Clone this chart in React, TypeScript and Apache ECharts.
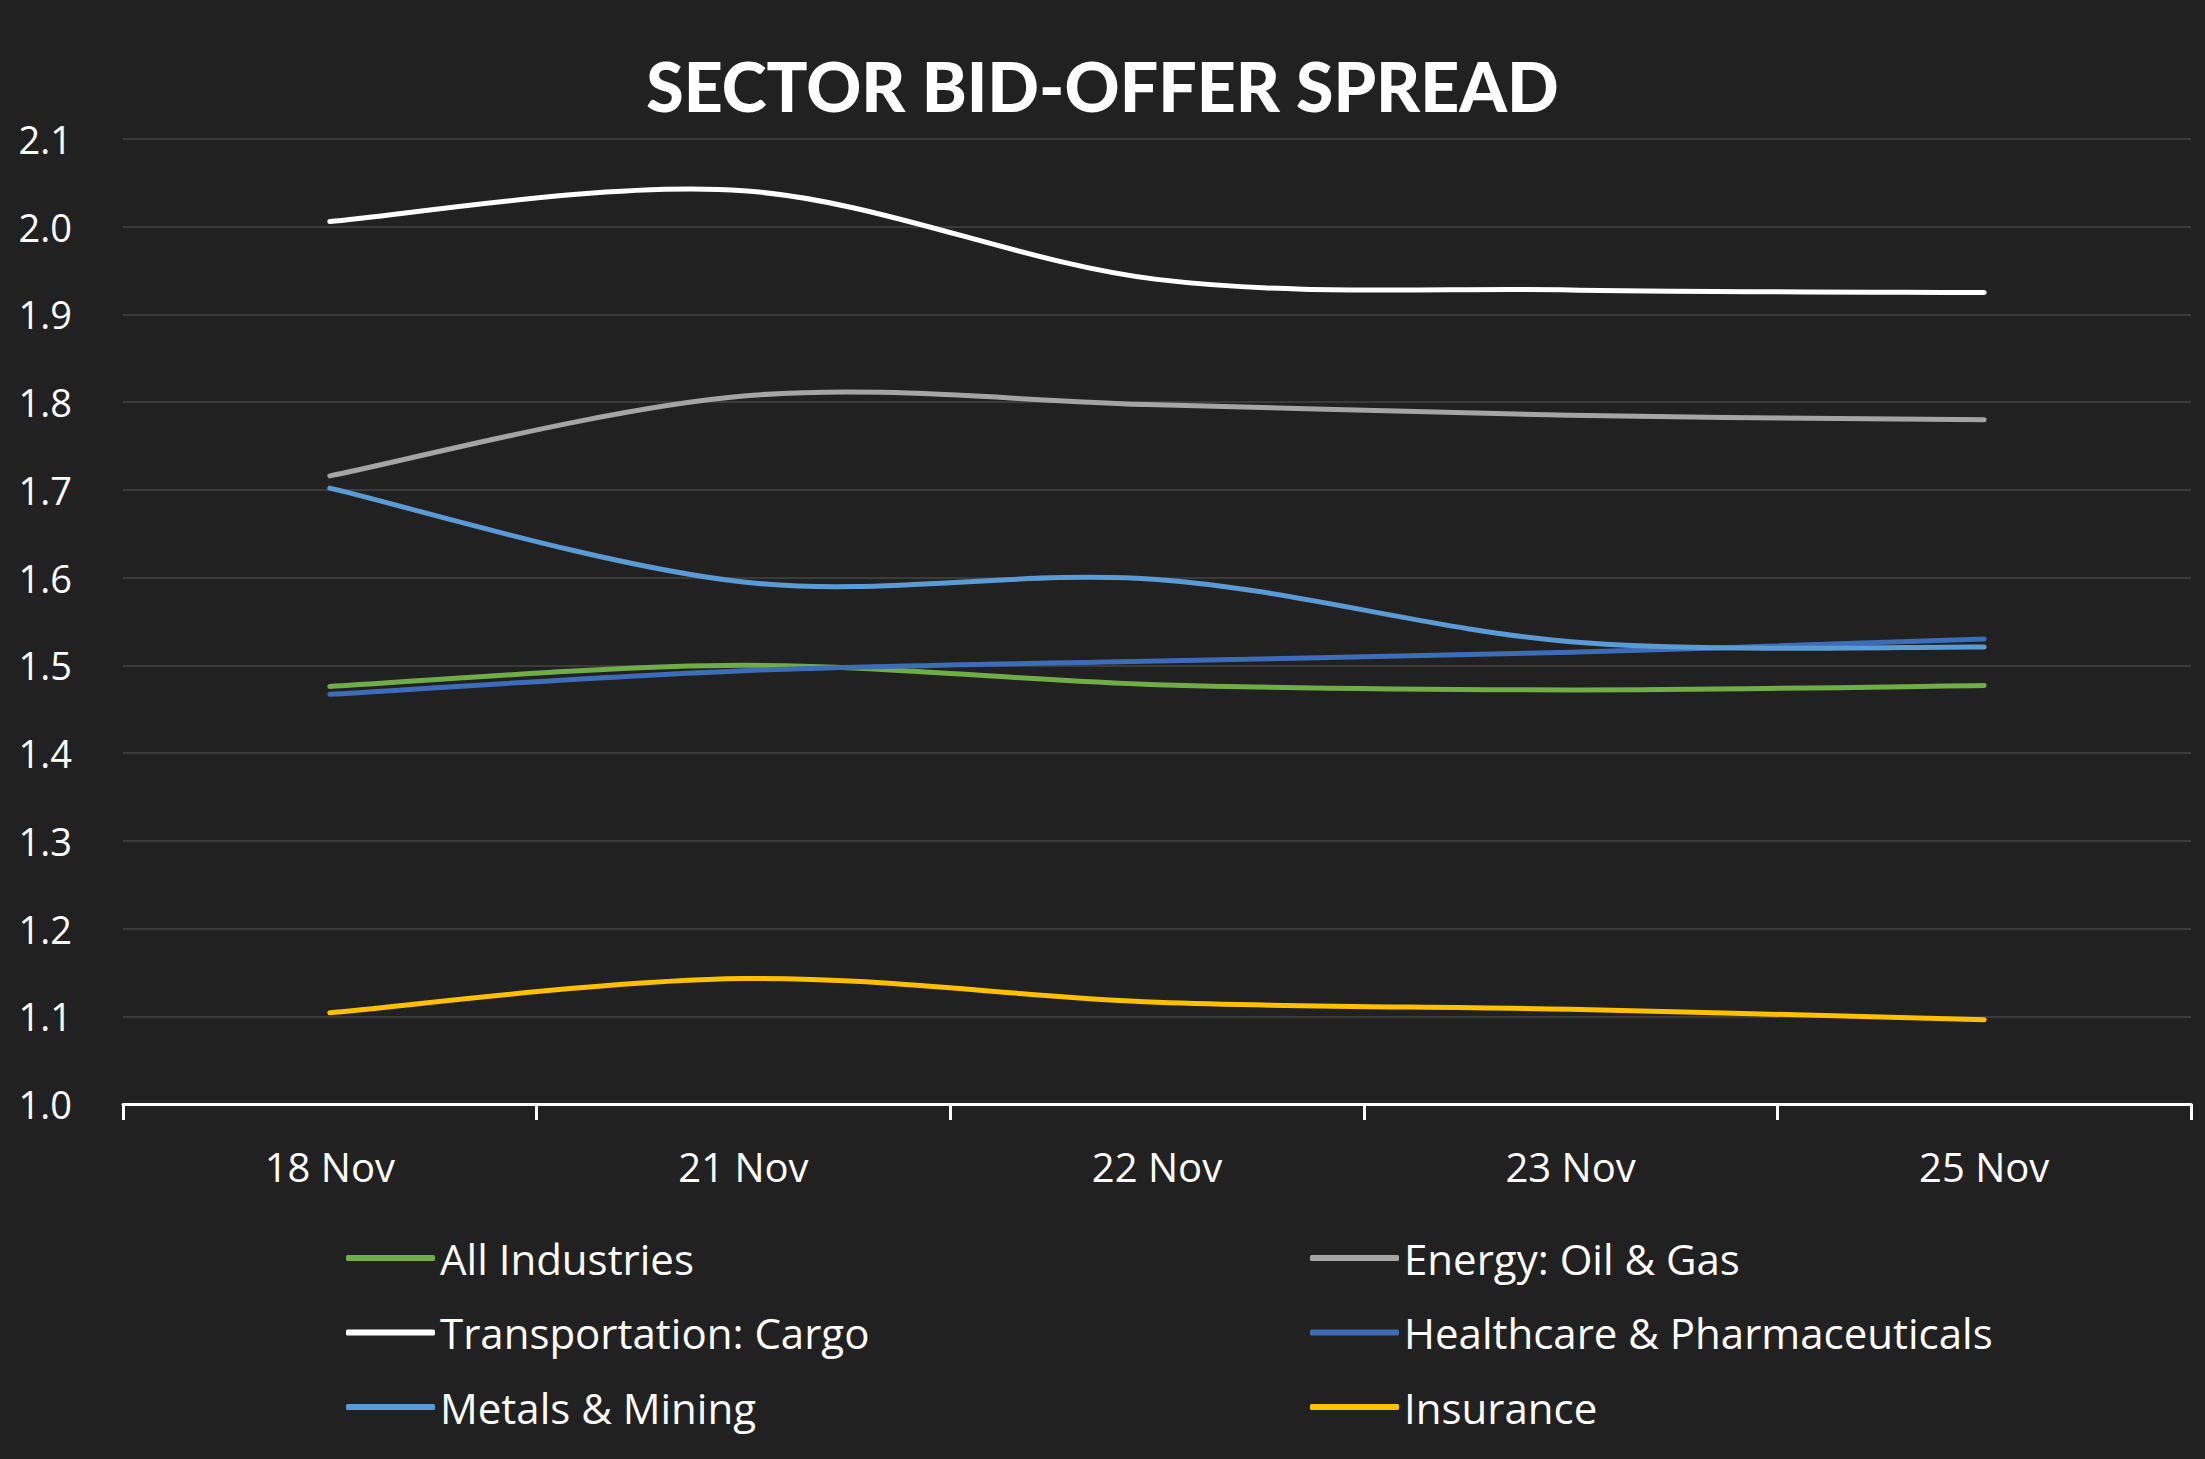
import React, { useEffect, useRef } from "react";
import * as echarts from "echarts";

const categories = ["18 Nov", "21 Nov", "22 Nov", "23 Nov", "25 Nov"];
const allIndustries = [1.476, 1.5, 1.478, 1.472, 1.477];
const energyOilGas = [1.716, 1.807, 1.797, 1.785, 1.78];
const transportationCargo = [2.006, 2.041, 1.94, 1.928, 1.925];
const healthcarePharma = [1.467, 1.494, 1.505, 1.515, 1.53];
const metalsMining = [1.702, 1.595, 1.598, 1.527, 1.521];
const insurance = [1.104, 1.143, 1.116, 1.108, 1.096];
const yTicks = { min: 1.0, max: 2.1, step: 0.1 };

const seriesDefs = [
  { name: "All Industries", data: allIndustries, color: "#70AD47" },
  { name: "Energy: Oil & Gas", data: energyOilGas, color: "#A5A5A5" },
  { name: "Transportation: Cargo", data: transportationCargo, color: "#FFFFFF" },
  { name: "Healthcare & Pharmaceuticals", data: healthcarePharma, color: "#3D6DB8" },
  { name: "Metals & Mining", data: metalsMining, color: "#5B9BD5" },
  { name: "Insurance", data: insurance, color: "#FFC000" },
];

const legendLeft = ["All Industries", "Transportation: Cargo", "Metals & Mining"];
const legendRight = ["Energy: Oil & Gas", "Healthcare & Pharmaceuticals", "Insurance"];

const FONT = "'Open Sans', 'DejaVu Sans', sans-serif";

// Catmull-Rom style smoothing (like a spreadsheet's "smoothed line"), built from pixel points
function smoothPath(pts: number[][]): string {
  if (pts.length === 0) return "";
  let d = `M${pts[0][0]},${pts[0][1]}`;
  for (let i = 0; i < pts.length - 1; i++) {
    const p0 = pts[i - 1] || pts[i];
    const p1 = pts[i];
    const p2 = pts[i + 1];
    const p3 = pts[i + 2] || pts[i + 1];
    const c1x = p1[0] + (p2[0] - p0[0]) / 6;
    const c1y = p1[1] + (p2[1] - p0[1]) / 6;
    const c2x = p2[0] - (p3[0] - p1[0]) / 6;
    const c2y = p2[1] - (p3[1] - p1[1]) / 6;
    d += ` C${c1x},${c1y} ${c2x},${c2y} ${p2[0]},${p2[1]}`;
  }
  return d;
}

export default function App() {
  const ref = useRef<HTMLDivElement>(null);
  useEffect(() => {
    document.body.style.margin = "0";
    if (!ref.current) return;
    const chart = echarts.init(ref.current, null, { renderer: "svg" });
    const legendCommon = {
      orient: "vertical",
      top: 1231,
      itemWidth: 89,
      itemHeight: 6,
      itemGap: 30.5,
      icon: "roundRect",
      textStyle: { color: "#FFFFFF", fontSize: 42, fontFamily: FONT, lineHeight: 44 },
      selectedMode: false,
    };
    chart.setOption({
      animation: false,
      backgroundColor: "#212121",
      title: {
        text: "SECTOR BID-OFFER SPREAD",
        left: "center",
        top: 46,
        textStyle: { color: "#FFFFFF", fontSize: 68, fontWeight: 900, fontFamily: "Lato, 'Open Sans', sans-serif" },
      },
      legend: [
        { ...legendCommon, left: 341, data: legendLeft },
        { ...legendCommon, left: 1305, data: legendRight },
      ],
      grid: { left: 123, right: 14, top: 139, bottom: 355, containLabel: false },
      xAxis: {
        type: "category",
        data: categories,
        boundaryGap: true,
        axisLine: { show: true, lineStyle: { color: "#FFFFFF", width: 3 } },
        axisTick: { show: true, length: 16, lineStyle: { color: "#FFFFFF", width: 3 } },
        axisLabel: { color: "#FFFFFF", fontSize: 40, fontFamily: FONT, margin: 42 },
        splitLine: { show: false },
      },
      yAxis: {
        type: "value",
        min: yTicks.min,
        max: yTicks.max,
        interval: yTicks.step,
        axisLine: { show: false },
        axisTick: { show: false },
        axisLabel: {
          color: "#FFFFFF",
          fontSize: 38,
          fontFamily: FONT,
          margin: 51,
          formatter: (v: number) => v.toFixed(1),
        },
        splitLine: { show: true, lineStyle: { color: "#3B3B3B", width: 2 } },
      },
      series: seriesDefs.map((s) => ({
        name: s.name,
        type: "custom",
        coordinateSystem: "cartesian2d",
        encode: { x: 0, y: 1 },
        data: s.data.map((v, i) => [i, v]),
        itemStyle: { color: s.color },
        renderItem: (params: any, api: any) => {
          if (params.dataIndex !== 0) return null;
          const pts = s.data.map((v, i) => api.coord([i, v]));
          return {
            type: "path",
            shape: { pathData: smoothPath(pts) },
            style: { stroke: s.color, lineWidth: 5, fill: "none", lineCap: "round", lineJoin: "round" },
          };
        },
      })),
    });
    return () => chart.dispose();
  }, []);
  return <div ref={ref} style={{ width: 2205, height: 1459 }} />;
}
